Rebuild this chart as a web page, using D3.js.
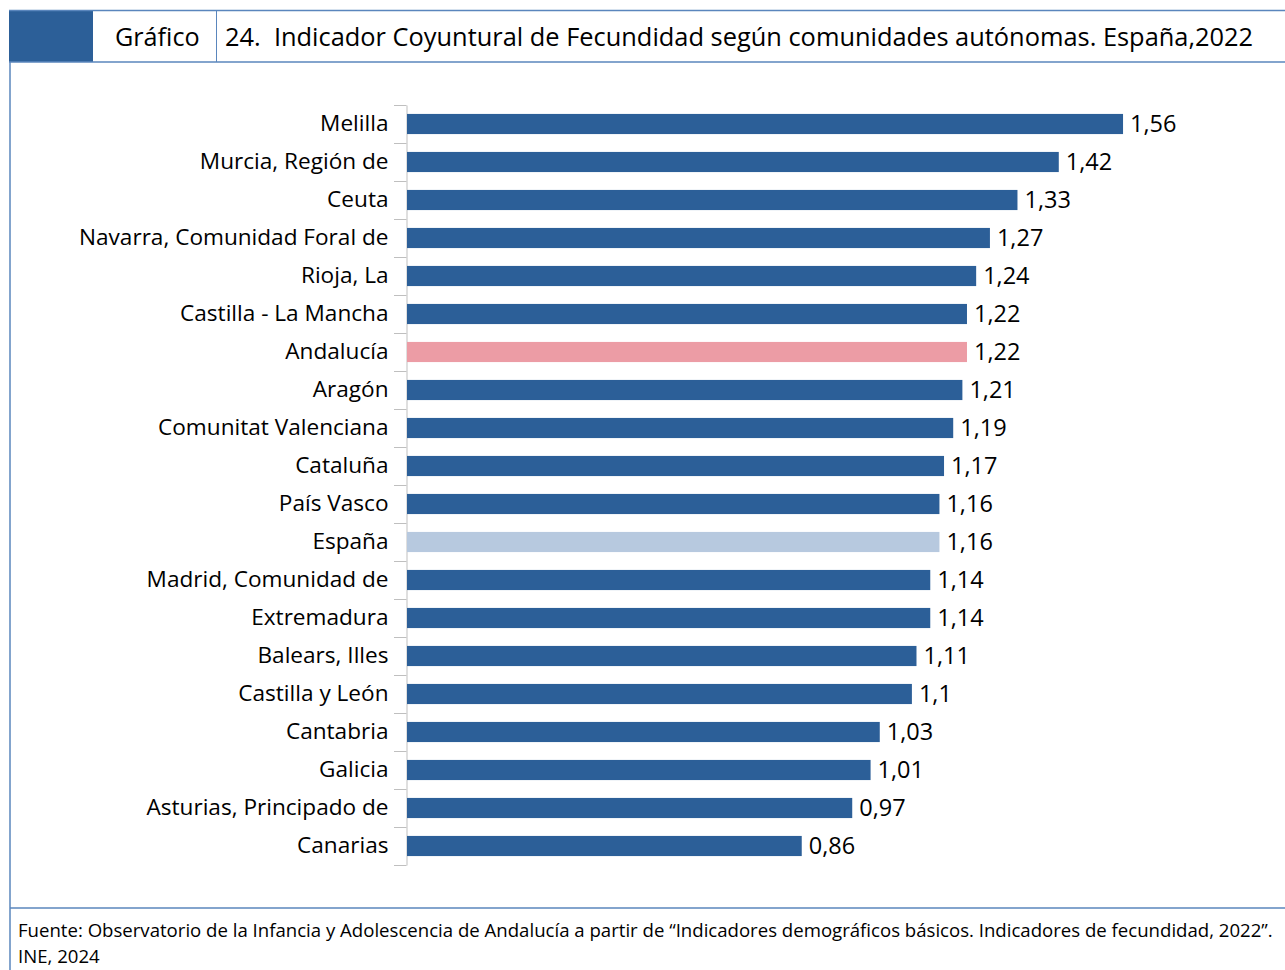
<!DOCTYPE html>
<html>
<head>
<meta charset="utf-8">
<script src="https://cdn.jsdelivr.net/npm/d3@7"></script>
<style>
  body { margin: 0; background: #fff; }
  svg { font-family: "Open Sans", sans-serif; }
</style>
</head>
<body>
<script>
'use strict';

var width = 1285;
var height = 970;

var regions = ['Melilla', 'Murcia, Región de', 'Ceuta', 'Navarra, Comunidad Foral de',
  'Rioja, La', 'Castilla - La Mancha', 'Andalucía', 'Aragón', 'Comunitat Valenciana',
  'Cataluña', 'País Vasco', 'España', 'Madrid, Comunidad de', 'Extremadura',
  'Balears, Illes', 'Castilla y León', 'Cantabria', 'Galicia',
  'Asturias, Principado de', 'Canarias'];
var icf = [1.56, 1.42, 1.33, 1.27, 1.24, 1.22, 1.22, 1.21, 1.19, 1.17, 1.16, 1.16,
  1.14, 1.14, 1.11, 1.1, 1.03, 1.01, 0.97, 0.86];
var highlight = { 'Andalucía': '#ec9ca5', 'España': '#b7c9df' };

var svg = d3.select('body').append('svg')
  .attr('width', width)
  .attr('height', height);

// header band
var frame = '#5a86bd';
svg.append('rect').attr('x', 9).attr('y', 10).attr('width', 84).attr('height', 52)
  .attr('fill', '#2c5f98');
svg.append('line').attr('x1', 9).attr('x2', width).attr('y1', 10.5).attr('y2', 10.5)
  .attr('stroke', frame).attr('stroke-width', 1.5);
svg.append('line').attr('x1', 9).attr('x2', width).attr('y1', 62).attr('y2', 62)
  .attr('stroke', frame).attr('stroke-width', 1.5);
svg.append('line').attr('x1', 216.5).attr('x2', 216.5).attr('y1', 10).attr('y2', 62)
  .attr('stroke', frame).attr('stroke-width', 1);
svg.append('line').attr('x1', 10).attr('x2', 10).attr('y1', 62).attr('y2', height)
  .attr('stroke', frame).attr('stroke-width', 1.5);
svg.append('line').attr('x1', 10).attr('x2', width).attr('y1', 908).attr('y2', 908)
  .attr('stroke', frame).attr('stroke-width', 1.5);

svg.append('text').attr('x', 115).attr('y', 46).attr('font-size', 25.2)
  .text('Gráfico');
svg.append('text').attr('x', 225).attr('y', 46).attr('font-size', 25.4)
  .style('white-space', 'pre')
  .text('24.  Indicador Coyuntural de Fecundidad según comunidades autónomas. España,2022');

// chart
var x = d3.scaleLinear().domain([0, 1]).range([407, 866]);
var y = d3.scaleBand().domain(regions).range([105, 865]).paddingInner(0.47).paddingOuter(0.235);

var axis = svg.append('g').attr('transform', 'translate(406.5,0)')
  .call(d3.axisLeft(y).tickSize(0).tickPadding(18));
axis.select('.domain').attr('stroke', '#bfbfbf');
axis.selectAll('text').attr('font-size', 22.6).attr('fill', '#000')
  .attr('font-family', '"Open Sans", sans-serif');

var step = y.step();
var bounds = d3.range(regions.length + 1).map(function (i) { return 105 + i * step; });
svg.selectAll('line.tick-mark').data(bounds).enter().append('line')
  .attr('class', 'tick-mark')
  .attr('x1', 394).attr('x2', 406.5)
  .attr('y1', function (d) { return Math.round(d) + 0.5; })
  .attr('y2', function (d) { return Math.round(d) + 0.5; })
  .attr('stroke', '#bfbfbf');

svg.selectAll('rect.bar').data(icf).enter().append('rect')
  .attr('class', 'bar')
  .attr('x', x(0))
  .attr('y', function (d, i) { return y(regions[i]); })
  .attr('width', function (d) { return x(d) - x(0); })
  .attr('height', y.bandwidth())
  .attr('fill', function (d, i) { return highlight[regions[i]] || '#2c5f98'; });

svg.selectAll('text.val').data(icf).enter().append('text')
  .attr('class', 'val')
  .attr('x', function (d) { return x(d) + 7; })
  .attr('y', function (d, i) { return y(regions[i]) + y.bandwidth() / 2; })
  .attr('dy', '0.35em')
  .attr('font-size', 23.5)
  .text(function (d) { return String(d).replace('.', ','); });

// source
svg.append('text').attr('x', 18).attr('y', 937).attr('font-size', 18.6)
  .text('Fuente: Observatorio de la Infancia y Adolescencia de Andalucía a partir de “Indicadores demográficos básicos. Indicadores de fecundidad, 2022”.');
svg.append('text').attr('x', 18).attr('y', 963).attr('font-size', 18.6)
  .text('INE, 2024');
</script>
</body>
</html>
